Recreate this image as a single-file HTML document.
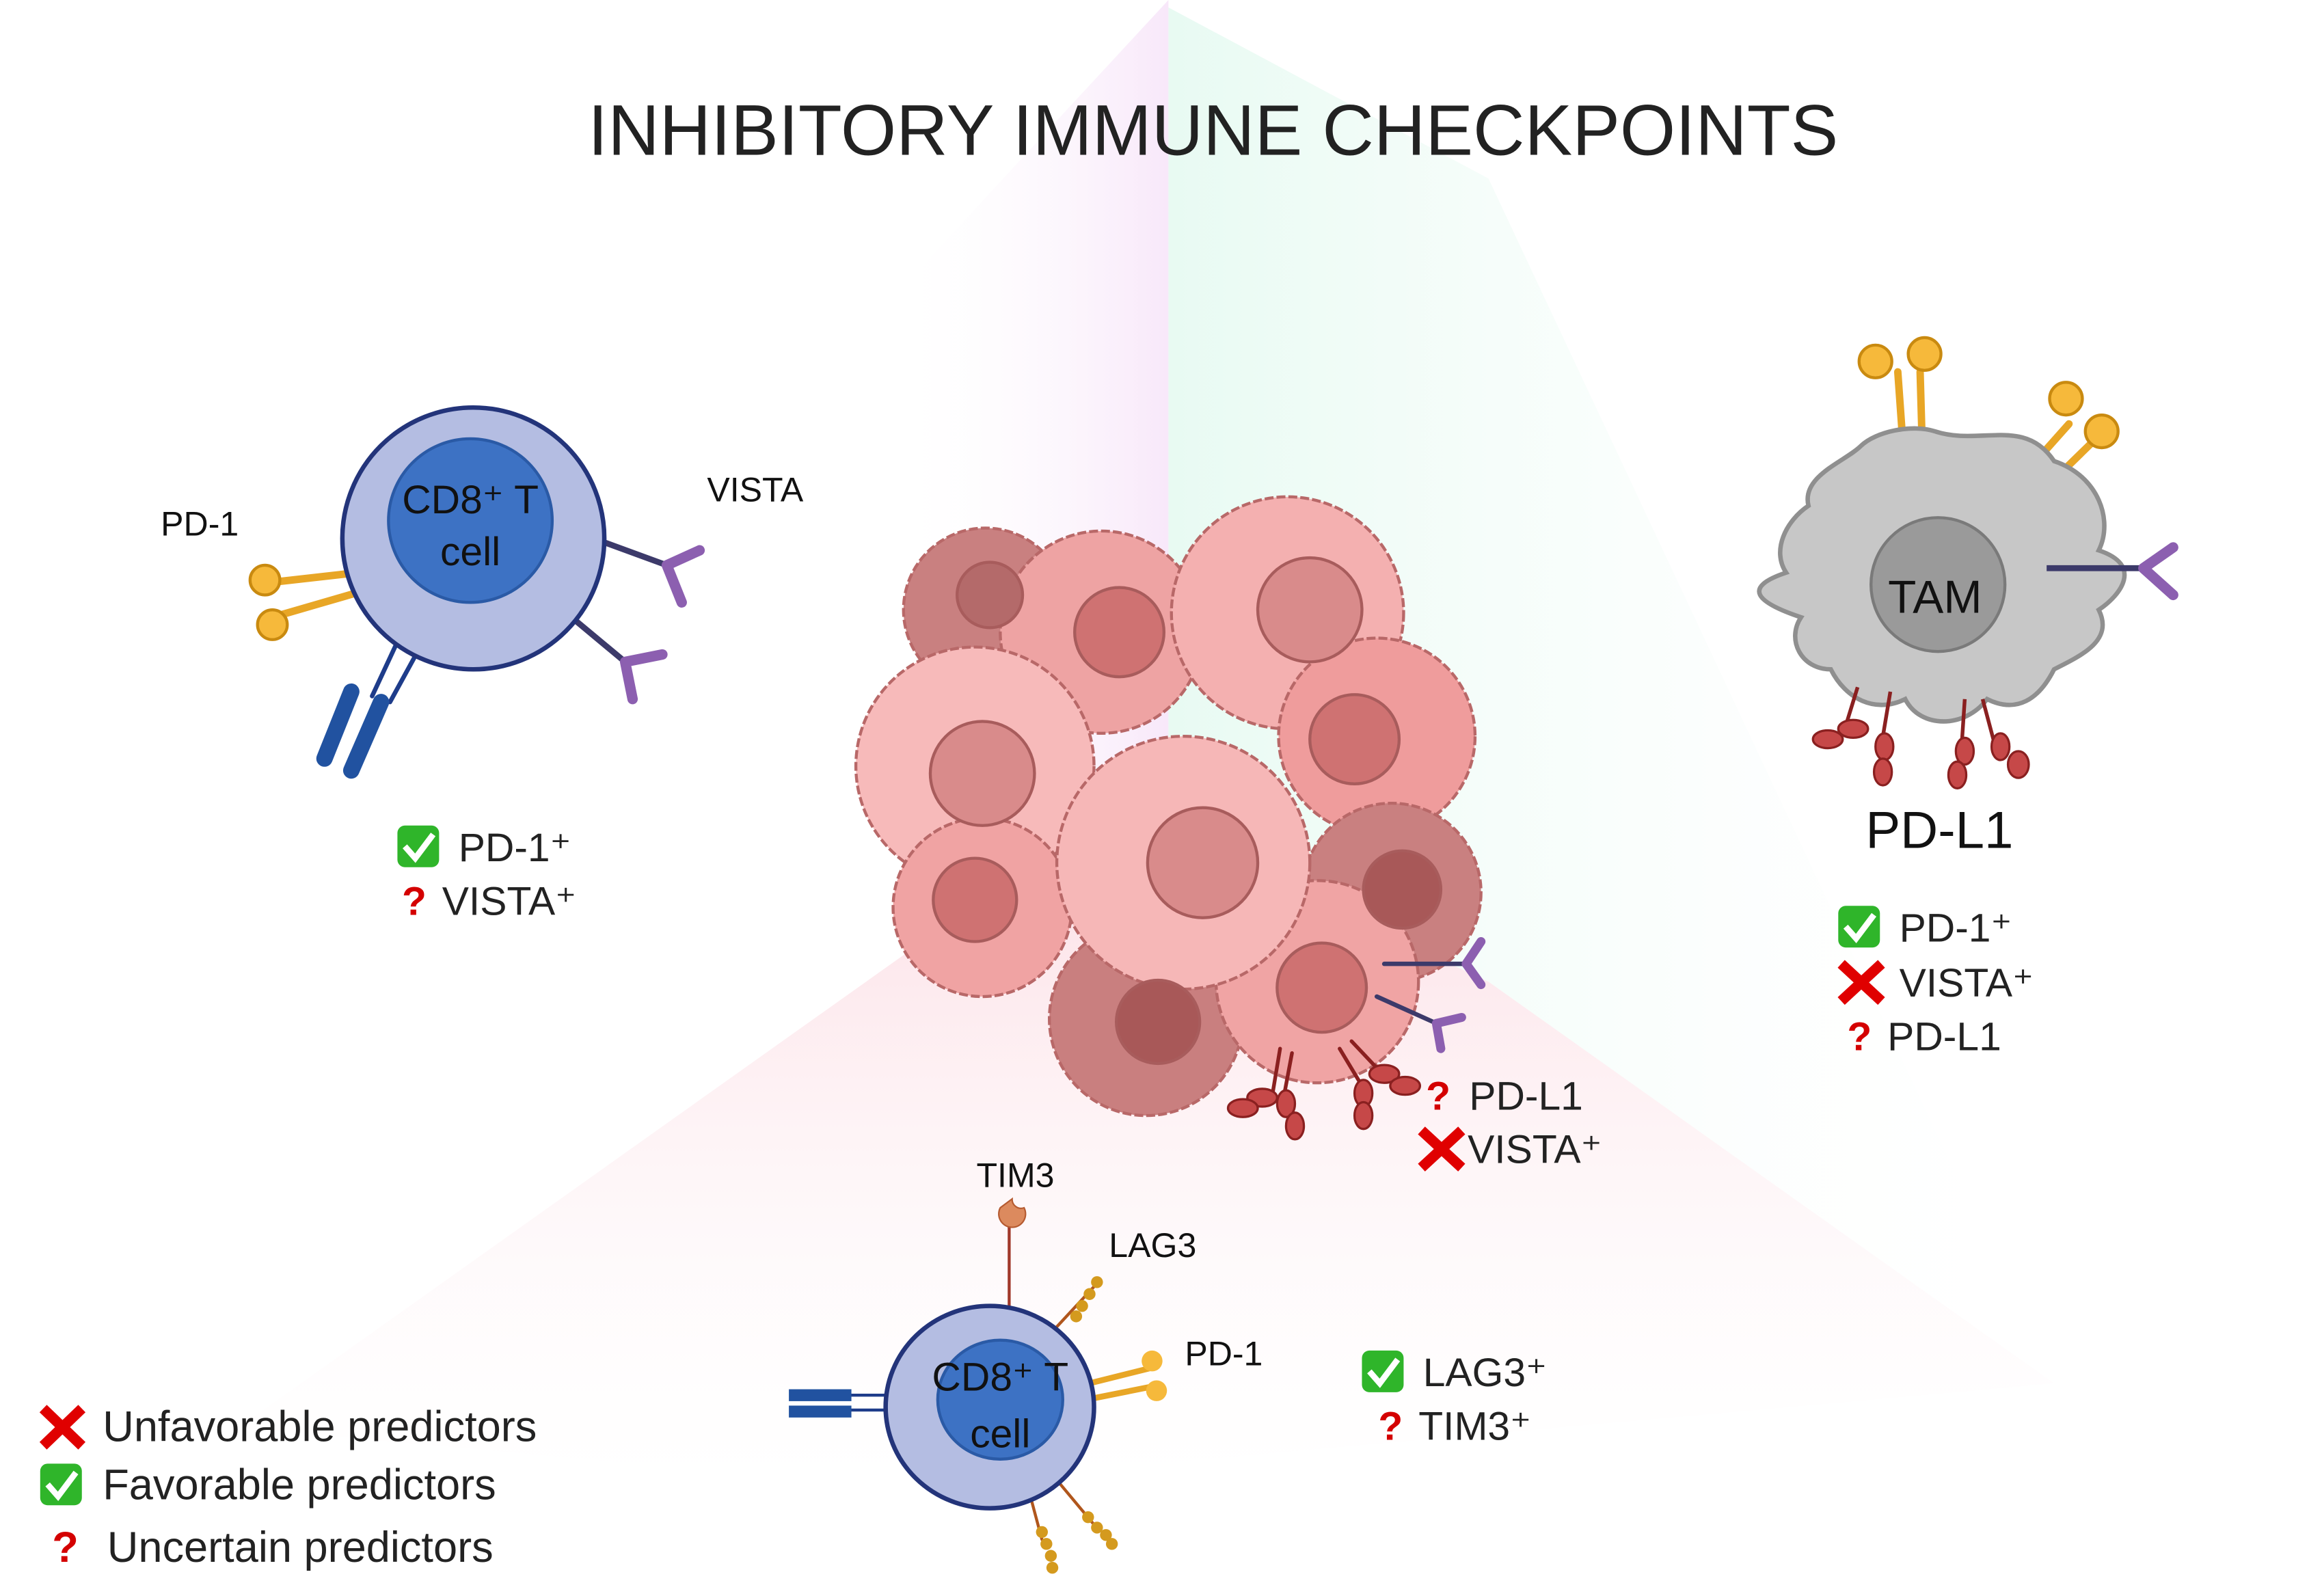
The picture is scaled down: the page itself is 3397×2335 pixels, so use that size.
<!DOCTYPE html>
<html><head><meta charset="utf-8"><style>
html,body{margin:0;padding:0;background:#fff}
svg{display:block}
text{font-family:"Liberation Sans",sans-serif}
</style></head><body>
<svg width="3397" height="2335" viewBox="0 0 1560 1073" preserveAspectRatio="none" xmlns="http://www.w3.org/2000/svg">
<defs>
<linearGradient id="gp" x1="1" y1="0" x2="0" y2="0"><stop offset="0" stop-color="#f6e2f8"/><stop offset="1" stop-color="#fff" stop-opacity="0"/></linearGradient>
<linearGradient id="gg" x1="0" y1="0" x2="1" y2="0"><stop offset="0" stop-color="#e2f9ef"/><stop offset="1" stop-color="#fff" stop-opacity="0"/></linearGradient>
<linearGradient id="gr" x1="0" y1="0" x2="0" y2="1"><stop offset="0" stop-color="#fbd6de"/><stop offset="1" stop-color="#fff" stop-opacity="0.2"/></linearGradient>
</defs>
<rect width="1560" height="1073" fill="#fff"/>
<polygon points="785,0 785,560 600,650 600,200" fill="url(#gp)" opacity="0.8"/>
<polygon points="785,5 1000,120 1380,930 1000,660 785,560" fill="url(#gg)" opacity="0.8"/>
<polygon points="610,640 785,560 1000,660 1380,930 600,1000 160,960" fill="url(#gr)" opacity="0.8"/>
<text x="815" y="104" font-size="48" text-anchor="middle" fill="#222">INHIBITORY IMMUNE CHECKPOINTS</text>

<!-- left T cell -->
<g stroke-linecap="round">
<line x1="240" y1="385" x2="178" y2="392" stroke="#e8a626" stroke-width="5"/>
<line x1="245" y1="397" x2="183" y2="415" stroke="#e8a626" stroke-width="5"/>
<circle cx="178" cy="390" r="10" fill="#f6b93b" stroke="#c98a10" stroke-width="2"/>
<circle cx="183" cy="420" r="10" fill="#f6b93b" stroke="#c98a10" stroke-width="2"/>
<line x1="388" y1="358" x2="448" y2="380" stroke="#3c3a6a" stroke-width="4"/>
<path d="M448 380 L470 370 M448 380 L458 405" stroke="#8c5fb0" stroke-width="7" fill="none"/>
<line x1="372" y1="405" x2="420" y2="445" stroke="#3c3a6a" stroke-width="4"/>
<path d="M420 445 L445 440 M420 445 L425 470" stroke="#8c5fb0" stroke-width="7" fill="none"/>
<line x1="270" y1="425" x2="250" y2="468" stroke="#1e3c8a" stroke-width="3"/>
<line x1="285" y1="430" x2="262" y2="472" stroke="#1e3c8a" stroke-width="3"/>
<path d="M236 465 L218 510 M256 472 L236 518" stroke="#2152a0" stroke-width="11"/>
</g>
<circle cx="318" cy="362" r="88" fill="#b4bde2" stroke="#23347a" stroke-width="3"/>
<circle cx="316" cy="350" r="55" fill="#3d72c4" stroke="#2a5aa6" stroke-width="2"/>
<text x="316" y="345" font-size="27" text-anchor="middle" fill="#111">CD8⁺ T</text>
<text x="316" y="380" font-size="27" text-anchor="middle" fill="#111">cell</text>
<text x="108" y="360" font-size="23" fill="#111">PD-1</text>
<text x="475" y="337" font-size="23" fill="#111">VISTA</text>
<rect x="267" y="555" width="28" height="28" rx="5" fill="#2fb52a"/><path d="M272 569 l7 8 l12 -16" stroke="#fff" stroke-width="4" fill="none"/>
<text x="308" y="579" font-size="27" fill="#222">PD-1⁺</text>
<text x="270" y="615" font-size="27" fill="#d40000" font-weight="bold">?</text>
<text x="297" y="615" font-size="27" fill="#222">VISTA⁺</text>

<!-- tumor -->
<g stroke="#b86868" stroke-width="2" stroke-dasharray="6 2">
<circle cx="662" cy="410" r="55" fill="#c98080"/>
<circle cx="740" cy="425" r="68" fill="#eea3a3"/>
<circle cx="865" cy="412" r="78" fill="#f4b0b0"/>
<circle cx="925" cy="495" r="66" fill="#ef9c9c"/>
<circle cx="655" cy="515" r="80" fill="#f7baba"/>
<circle cx="660" cy="610" r="60" fill="#f0a3a3"/>
<circle cx="935" cy="600" r="60" fill="#c98080"/>
<circle cx="770" cy="685" r="65" fill="#c97f7f"/>
<circle cx="885" cy="660" r="68" fill="#f0a4a4"/>
<circle cx="795" cy="580" r="85" fill="#f6b7b7"/>
</g>
<g stroke="#a85c5c" stroke-width="2">
<circle cx="665" cy="400" r="22" fill="#b46a6a"/>
<circle cx="752" cy="425" r="30" fill="#cf7272"/>
<circle cx="880" cy="410" r="35" fill="#d98b8b"/>
<circle cx="910" cy="497" r="30" fill="#cf7272"/>
<circle cx="660" cy="520" r="35" fill="#d98b8b"/>
<circle cx="655" cy="605" r="28" fill="#cf7272"/>
<circle cx="942" cy="598" r="26" fill="#a85858"/>
<circle cx="778" cy="687" r="28" fill="#a85858"/>
<circle cx="888" cy="664" r="30" fill="#cf7272"/>
<circle cx="808" cy="580" r="37" fill="#d98b8b"/>
</g>
<g stroke-linecap="round">
<line x1="930" y1="648" x2="985" y2="648" stroke="#3c3a6a" stroke-width="3"/>
<path d="M985 648 L995 633 M985 648 L995 662" stroke="#8c5fb0" stroke-width="6" fill="none"/>
<line x1="925" y1="670" x2="965" y2="688" stroke="#3c3a6a" stroke-width="3"/>
<path d="M965 688 L982 684 M965 688 L968 705" stroke="#8c5fb0" stroke-width="6" fill="none"/>
<path d="M860 705 L855 735 M868 708 L862 740 M900 705 L915 730 M908 700 L925 718" stroke="#8a2020" stroke-width="2.5"/>
</g>
<g fill="#c64848" stroke="#8a2020" stroke-width="1.5">
<ellipse cx="848" cy="738" rx="10" ry="6"/><ellipse cx="835" cy="745" rx="10" ry="6"/>
<ellipse cx="864" cy="742" rx="6" ry="9"/><ellipse cx="870" cy="757" rx="6" ry="9"/>
<ellipse cx="916" cy="735" rx="6" ry="9"/><ellipse cx="916" cy="750" rx="6" ry="9"/>
<ellipse cx="930" cy="722" rx="10" ry="6"/><ellipse cx="944" cy="730" rx="10" ry="6"/>
</g>
<text x="958" y="746" font-size="27" fill="#d40000" font-weight="bold">?</text>
<text x="987" y="746" font-size="27" fill="#222">PD-L1</text>
<path d="M955 760 L982 785 M982 760 L955 785" stroke="#e00000" stroke-width="7"/>
<text x="986" y="782" font-size="27" fill="#222">VISTA⁺</text>

<!-- TAM -->
<g stroke-linecap="round">
<path d="M1280 320 L1275 250 M1292 320 L1290 250" stroke="#e8a626" stroke-width="5"/>
<circle cx="1260" cy="243" r="11" fill="#f6b93b" stroke="#c98a10" stroke-width="2"/>
<circle cx="1293" cy="238" r="11" fill="#f6b93b" stroke="#c98a10" stroke-width="2"/>
<path d="M1350 330 L1390 285 M1362 340 L1405 298" stroke="#e8a626" stroke-width="5"/>
<circle cx="1388" cy="268" r="11" fill="#f6b93b" stroke="#c98a10" stroke-width="2"/>
<circle cx="1412" cy="290" r="11" fill="#f6b93b" stroke="#c98a10" stroke-width="2"/>
</g>
<path d="M1300 290 C1330 300 1360 280 1380 310 C1410 320 1420 350 1410 370 C1440 380 1425 400 1410 410 C1420 430 1400 440 1380 450 C1370 470 1355 480 1335 470 C1320 490 1290 490 1280 470 C1260 480 1240 470 1230 450 C1210 450 1200 430 1210 415 C1180 405 1170 395 1200 385 C1190 370 1200 350 1215 340 C1210 320 1240 310 1250 300 C1260 290 1285 285 1300 290 Z" fill="#c7c7c7" stroke="#8f8f8f" stroke-width="3"/>
<circle cx="1302" cy="393" r="45" fill="#9a9a9a" stroke="#7a7a7a" stroke-width="2"/>
<text x="1300" y="412" font-size="31" text-anchor="middle" fill="#111">TAM</text>
<line x1="1375" y1="382" x2="1440" y2="382" stroke="#3c3a6a" stroke-width="4"/>
<path d="M1440 382 L1460 368 M1440 382 L1460 400" stroke="#8c5fb0" stroke-width="7" fill="none" stroke-linecap="round"/>
<path d="M1248 462 L1240 488 M1270 465 L1265 495 M1320 470 L1318 500 M1332 470 L1340 500" stroke="#8a2020" stroke-width="2.5"/>
<g fill="#c64848" stroke="#8a2020" stroke-width="1.5">
<ellipse cx="1245" cy="490" rx="10" ry="6"/><ellipse cx="1228" cy="497" rx="10" ry="6"/>
<ellipse cx="1266" cy="502" rx="6" ry="9"/><ellipse cx="1265" cy="519" rx="6" ry="9"/>
<ellipse cx="1320" cy="505" rx="6" ry="9"/><ellipse cx="1315" cy="521" rx="6" ry="9"/>
<ellipse cx="1344" cy="502" rx="6" ry="9"/><ellipse cx="1356" cy="514" rx="7" ry="9"/>
</g>
<text x="1303" y="570" font-size="35" text-anchor="middle" fill="#111">PD-L1</text>
<rect x="1235" y="609" width="28" height="28" rx="5" fill="#2fb52a"/><path d="M1240 623 l7 8 l12 -16" stroke="#fff" stroke-width="4" fill="none"/>
<text x="1276" y="633" font-size="27" fill="#222">PD-1⁺</text>
<path d="M1237 648 L1264 673 M1264 648 L1237 673" stroke="#e00000" stroke-width="7"/>
<text x="1276" y="670" font-size="27" fill="#222">VISTA⁺</text>
<text x="1241" y="706" font-size="27" fill="#d40000" font-weight="bold">?</text>
<text x="1268" y="706" font-size="27" fill="#222">PD-L1</text>

<!-- bottom T cell -->
<g stroke-linecap="round">
<line x1="678" y1="878" x2="678" y2="825" stroke="#a0382a" stroke-width="2"/>
<path d="M672 812 a9 9 0 1 0 16 0 a6 6 0 0 1 -8 -6 z" fill="#dc8a5e" stroke="#b55a30"/>
<line x1="710" y1="892" x2="735" y2="865" stroke="#b0561c" stroke-width="2"/>
<line x1="710" y1="995" x2="735" y2="1025" stroke="#b0561c" stroke-width="2"/>
<line x1="692" y1="1005" x2="700" y2="1035" stroke="#b0561c" stroke-width="2"/>
<path d="M732 930 L772 920 M735 940 L775 932" stroke="#e8a626" stroke-width="4"/>
<circle cx="774" cy="915" r="7" fill="#f6b93b"/><circle cx="777" cy="935" r="7" fill="#f6b93b"/>
<path d="M560 938 L600 938 M560 948 L600 948" stroke="#1e3c8a" stroke-width="2"/>
<rect x="530" y="934" width="42" height="8" fill="#2152a0"/><rect x="530" y="945" width="42" height="8" fill="#2152a0"/>
</g>
<g fill="#d49a1e"><circle cx="737" cy="862" r="4"/><circle cx="732" cy="870" r="4"/><circle cx="727" cy="878" r="4"/><circle cx="723" cy="885" r="4"/>
<circle cx="731" cy="1020" r="4"/><circle cx="737" cy="1027" r="4"/><circle cx="743" cy="1032" r="4"/><circle cx="747" cy="1038" r="4"/>
<circle cx="700" cy="1030" r="4"/><circle cx="703" cy="1038" r="4"/><circle cx="706" cy="1046" r="4"/><circle cx="707" cy="1054" r="4"/></g>
<ellipse cx="665" cy="946" rx="70" ry="68" fill="#b4bde2" stroke="#23347a" stroke-width="3"/>
<ellipse cx="672" cy="941" rx="42" ry="40" fill="#3d72c4" stroke="#2a5aa6" stroke-width="2"/>
<text x="672" y="935" font-size="27" text-anchor="middle" fill="#111">CD8⁺ T</text>
<text x="672" y="973" font-size="27" text-anchor="middle" fill="#111">cell</text>
<text x="656" y="798" font-size="23" fill="#111">TIM3</text>
<text x="745" y="845" font-size="23" fill="#111">LAG3</text>
<text x="796" y="918" font-size="23" fill="#111">PD-1</text>
<rect x="915" y="908" width="28" height="28" rx="5" fill="#2fb52a"/><path d="M920 922 l7 8 l12 -16" stroke="#fff" stroke-width="4" fill="none"/>
<text x="956" y="932" font-size="27" fill="#222">LAG3⁺</text>
<text x="926" y="968" font-size="27" fill="#d40000" font-weight="bold">?</text>
<text x="953" y="968" font-size="27" fill="#222">TIM3⁺</text>

<!-- legend -->
<path d="M29 947 L55 972 M55 947 L29 972" stroke="#e00000" stroke-width="7"/>
<text x="69" y="969" font-size="29" fill="#222">Unfavorable predictors</text>
<rect x="27" y="984" width="28" height="28" rx="5" fill="#2fb52a"/><path d="M32 998 l7 8 l12 -16" stroke="#fff" stroke-width="4" fill="none"/>
<text x="69" y="1008" font-size="29" fill="#222">Favorable predictors</text>
<text x="35" y="1050" font-size="29" fill="#d40000" font-weight="bold">?</text>
<text x="72" y="1050" font-size="29" fill="#222">Uncertain predictors</text>
</svg>
</body></html>
